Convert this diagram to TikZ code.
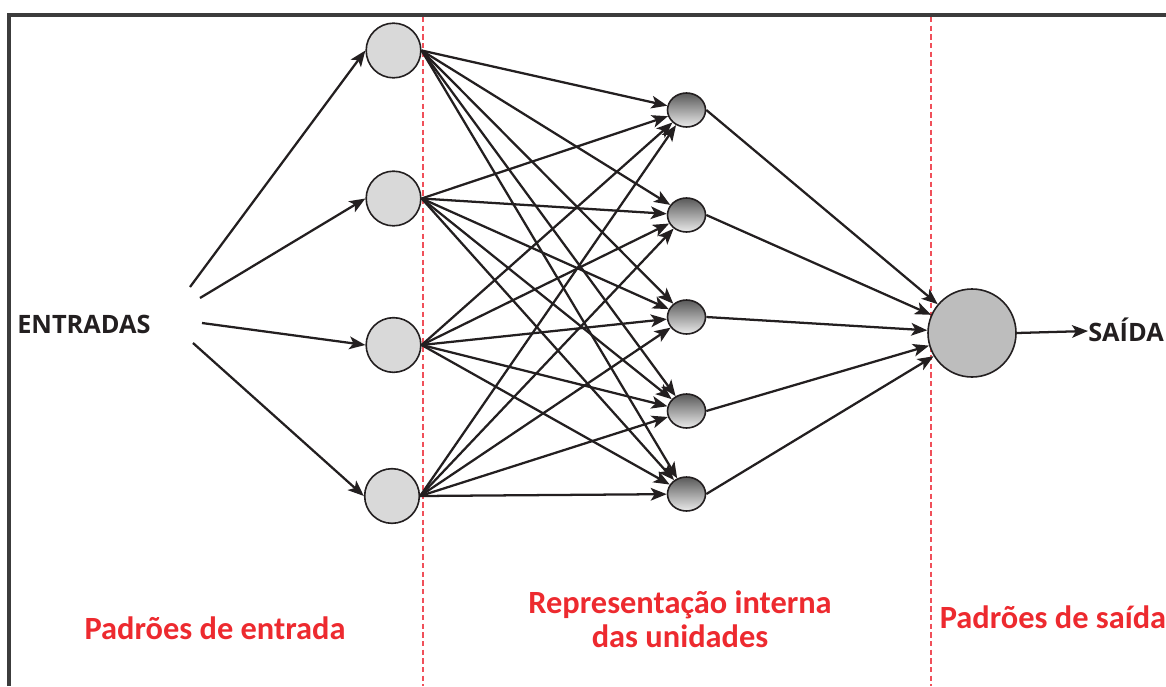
\documentclass[tikz,border=0pt]{standalone}
\usepackage{fontspec}
\setmainfont{Open Sans}
\newfontfamily\zonefont{Carlito}
\usetikzlibrary{arrows.meta,shapes.geometric}
\definecolor{ink}{HTML}{231F20}
\definecolor{framegray}{HTML}{3C3C3C}
\definecolor{zonered}{HTML}{ED2A2F}
\definecolor{dashred}{HTML}{F0505A}
\definecolor{inputgray}{HTML}{D9D9D9}
\definecolor{outputgray}{HTML}{BDBDBD}
\begin{document}
\begin{tikzpicture}[x=0.75pt,y=-0.75pt,
  inunit/.style={circle,draw=ink,line width=1.2pt,fill=inputgray,minimum size=41pt,inner sep=0pt},
  hidunit/.style={ellipse,draw=ink,line width=1.2pt,top color=black!65,bottom color=black!8,minimum width=28.5pt,minimum height=25.5pt,inner sep=0pt},
  outunit/.style={circle,draw=ink,line width=1.2pt,fill=outputgray,minimum size=66pt,inner sep=0pt},
  link/.style={draw=ink,line width=1.7pt,-{Stealth[length=12pt,width=9.5pt,inset=3pt]}},
  zone/.style={draw=dashred,line width=0.8pt,dash pattern=on 4pt off 2.5pt},
  zonelabel/.style={text=zonered,font=\zonefont\bfseries\fontsize{24.3}{26}\selectfont,align=center,inner sep=0pt},
  tag/.style={text=ink,font=\bfseries\fontsize{19}{22}\selectfont,inner sep=0pt}]
  \useasboundingbox (0,0) rectangle (1166,686);

  % frame (top and left edges)
  \draw[framegray,line width=2.4pt] (9,686) -- (9,15) -- (1166,15);

  % zone separators
  \draw[zone] (423,17) -- (423,686);
  \draw[zone] (931,17) -- (931,686);

  % input units
  \node[inunit] (i1) at (393.5,50.5) {};
  \node[inunit] (i2) at (393.5,198.5) {};
  \node[inunit] (i3) at (393.5,345) {};
  \node[inunit] (i4) at (392,496) {};

  % hidden units
  \node[hidunit] (h1) at (686.5,110) {};
  \node[hidunit] (h2) at (686.5,215) {};
  \node[hidunit] (h3) at (686.5,317) {};
  \node[hidunit] (h4) at (686.5,411) {};
  \node[hidunit] (h5) at (686.5,494) {};

  % output unit
  \node[outunit] (o) at (972,333) {};

  % labels
  \node[tag,anchor=base west] (entradas) at (17,333) {ENTRADAS};
  \node[tag,anchor=base west] (saida) at (1088,341) {SAÍDA};

  % free ends of the input arrows
  \coordinate (e1) at (190,287);
  \coordinate (e2) at (200,298);
  \coordinate (e3) at (202,323);
  \coordinate (e4) at (193,343);
  \foreach \k in {1,...,4} {\draw[link] (e\k) -- (i\k.west);}

  % input -> hidden
  \foreach \a in {1,...,4} {
    \foreach \b in {1,...,5} {
      \draw[link] (i\a.east) -- (h\b);
    }
  }

  % hidden -> output
  \foreach \b in {1,...,5} {\draw[link] (h\b.east) -- (o);}

  % output arrow
  \draw[link] (o.east) -- (saida.west |- 0,331);

  % zone captions
  \node[zonelabel,anchor=base] (z1) at (215,639) {Padrões de entrada};
  \node[zonelabel,anchor=base] (z2a) at (680,613) {Representação interna};
  \node[zonelabel,anchor=base] (z2b) at (680,647) {das unidades};
  \node[zonelabel,anchor=base] (z3) at (1053,628) {Padrões de saída};
\end{tikzpicture}
\end{document}
